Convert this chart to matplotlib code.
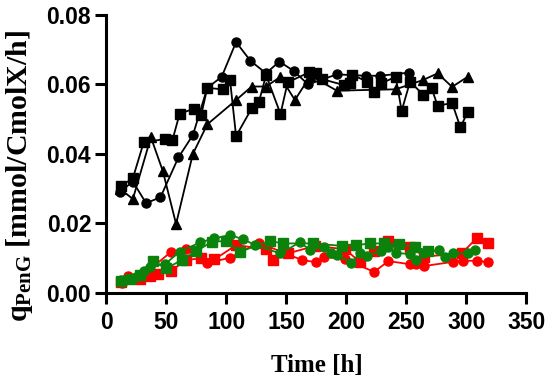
import numpy as np
import matplotlib
matplotlib.use("Agg")
import matplotlib.pyplot as plt

# black series (upper group)
bc_t = [11, 22, 33, 45, 60, 72, 84, 96, 108, 120, 133, 144, 156, 168, 192, 216, 228, 252]
bc_v = [0.029, 0.032, 0.0258, 0.0275, 0.039, 0.0454, 0.059, 0.0622, 0.0722, 0.0668, 0.0632, 0.0666,
        0.0639, 0.060, 0.0629, 0.0625, 0.0625, 0.0634]

bs_t = [12, 22, 31, 49, 55, 61, 73, 79, 84, 97, 103, 108, 121, 127, 133, 145, 151, 169, 175, 180,
        198, 203, 205, 217, 223, 229, 241, 246, 253, 264, 271, 276, 288, 295, 301]
bs_v = [0.0307, 0.033, 0.0433, 0.0443, 0.044, 0.0516, 0.053, 0.0513, 0.059, 0.0586, 0.0612, 0.0451,
        0.0531, 0.0549, 0.0627, 0.0515, 0.0606, 0.0635, 0.0632, 0.0615, 0.0598, 0.0603, 0.0628,
        0.0608, 0.0577, 0.0603, 0.0622, 0.0524, 0.0608, 0.057, 0.0589, 0.0538, 0.0547, 0.0476, 0.0521]

bt_t = [11, 22, 37, 47, 58, 72, 84, 108, 121, 133, 145, 157, 170, 192, 241, 264, 276, 288, 301]
bt_v = [0.030, 0.027, 0.0448, 0.035, 0.0198, 0.040, 0.0485, 0.0555, 0.0594, 0.0594, 0.0622,
        0.0555, 0.0625, 0.0582, 0.0586, 0.0613, 0.0632, 0.0593, 0.0622]

# green series (lower group)
gc_t = [12, 25, 31, 36, 49, 61, 78, 90, 103, 114, 124, 145, 161, 170, 181, 187, 192, 204, 211, 217,
        229, 235, 241, 253, 258, 265, 277, 282, 289, 301, 307]
gc_v = [0.0037, 0.0046, 0.0063, 0.0075, 0.0083, 0.0118, 0.0145, 0.0157, 0.0166, 0.0154, 0.0137,
        0.0113, 0.0145, 0.0123, 0.0133, 0.0113, 0.0109, 0.0087, 0.0113, 0.0106, 0.0121, 0.0131,
        0.0115, 0.0111, 0.0094, 0.0115, 0.0123, 0.0104, 0.0113, 0.0113, 0.0123]

gs_t = [12, 20, 28, 39, 50, 63, 75, 88, 100, 111, 136, 147, 172, 196, 208, 220, 231, 244, 257, 268]
gs_v = [0.0035, 0.004, 0.005, 0.0092, 0.007, 0.0095, 0.012, 0.0147, 0.0149, 0.0118, 0.0149, 0.0142,
        0.0142, 0.0135, 0.0137, 0.0142, 0.0142, 0.014, 0.0131, 0.0121]

# red series (lower group)
rc_t = [13, 18, 30, 54, 66, 84, 103, 127, 163, 175, 181, 199, 223, 235, 253, 258, 265, 289, 297,
        309, 318]
rc_v = [0.0029, 0.0048, 0.005, 0.0118, 0.0125, 0.0085, 0.0101, 0.0144, 0.0094, 0.0088, 0.0104,
        0.0096, 0.006, 0.0091, 0.0082, 0.0082, 0.0077, 0.0089, 0.0092, 0.0092, 0.0088]

rs_t = [12, 28, 36, 43, 54, 66, 79, 90, 108, 133, 139, 151, 174, 199, 211, 223, 235, 253, 265, 296,
        309, 318]
rs_v = [0.003, 0.0039, 0.0048, 0.0053, 0.0063, 0.0094, 0.0099, 0.0096, 0.0137, 0.0126, 0.0094,
        0.0113, 0.0135, 0.0125, 0.0089, 0.0121, 0.015, 0.0133, 0.0104, 0.0113, 0.0159, 0.0142]

x_ticks = [0, 50, 100, 150, 200, 250, 300, 350]
y_ticks = [0.00, 0.02, 0.04, 0.06, 0.08]

plt.rcParams['mathtext.fontset'] = 'custom'
plt.rcParams['mathtext.rm'] = 'Liberation Serif:bold'
plt.rcParams['mathtext.it'] = 'Liberation Serif:bold'
plt.rcParams['mathtext.bf'] = 'Liberation Serif:bold'

fig = plt.figure(figsize=(5.5, 3.8), dpi=100)
ax = fig.add_axes([0.1936, 0.2297, 0.7636, 0.7308])

RED = '#ff0000'
GREEN = '#0b820b'
lw = 1.3
ms = 6.5
ax.plot(rc_t, rc_v, '-o', color=RED, lw=lw, ms=ms, clip_on=False)
ax.plot(rs_t, rs_v, '-s', color=RED, lw=lw, ms=ms, clip_on=False)
ax.plot(gs_t, gs_v, '-s', color=GREEN, lw=lw, ms=ms, clip_on=False)
ax.plot(gc_t, gc_v, '-o', color=GREEN, lw=lw, ms=ms, clip_on=False)
ax.plot(bt_t, bt_v, '-^', color='black', lw=lw, ms=ms, clip_on=False)
ax.plot(bs_t, bs_v, '-s', color='black', lw=lw, ms=ms, clip_on=False)
ax.plot(bc_t, bc_v, '-o', color='black', lw=lw, ms=ms, clip_on=False)

ax.set_xlim(0, 350)
ax.set_ylim(0, 0.08)
ax.set_xticks(x_ticks)
ax.set_yticks(y_ticks)
ax.set_xticklabels([str(t) for t in x_ticks])
ax.set_yticklabels(['%.2f' % v for v in y_ticks])

for s in ['top', 'right']:
    ax.spines[s].set_visible(False)
for s in ['left', 'bottom']:
    ax.spines[s].set_linewidth(2.2)
ax.tick_params(direction='out', length=8, width=2.2, pad=3)
ax.tick_params(axis='x', pad=5)
for lab in ax.get_xticklabels() + ax.get_yticklabels():
    lab.set_fontfamily('Liberation Sans')
    lab.set_fontweight('bold')
    lab.set_fontsize(16.5)

ax.set_xlabel('Time [h]', fontfamily='Liberation Serif', fontweight='bold', fontsize=18)
ax.xaxis.set_label_coords(0.5, -0.22)
ax.set_ylabel(r'$\mathrm{q_{PenG}}$ [mmol/CmolX/h]', fontfamily='Liberation Serif',
              fontweight='bold', fontsize=21.5)
ax.yaxis.set_label_coords(-0.17, 0.42)

fig.savefig('out.png', dpi=100)
